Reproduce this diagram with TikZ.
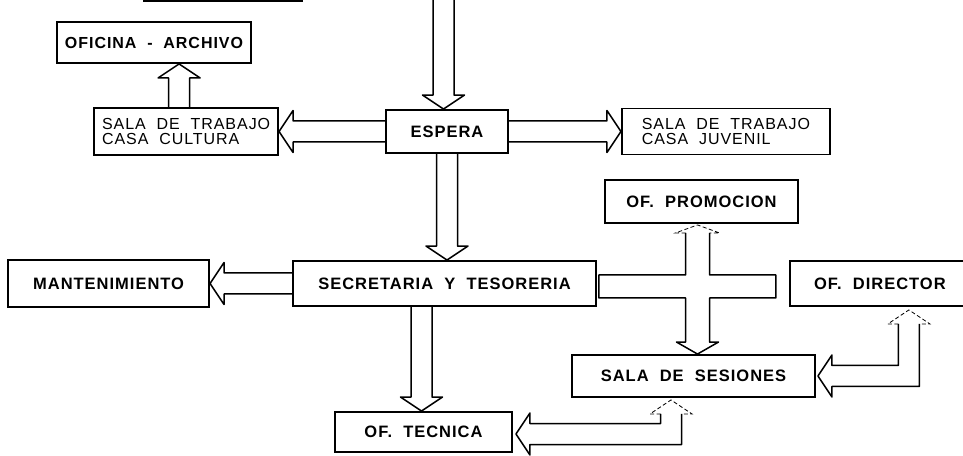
\documentclass[tikz,border=0pt]{standalone}
\usepackage{fontspec}
\setmainfont{Liberation Sans}
\newfontfamily\roomfamily[LetterSpace=6,WordSpace=2]{Liberation Sans}
\usetikzlibrary{calc,positioning}

\newcommand\shaftw{10.5pt}
\newcommand\headw{21pt}
\newcommand\headlen{14pt}

% hollow block arrow, #1 tail, #2 tip
\newcommand\fatarrow[2]{%
  \coordinate (fa-b) at ($(#2)!\headlen!(#1)$);
  \draw[flow] ($(#1)!\shaftw!90:(#2)$) -- ($(fa-b)!\shaftw!90:(#2)$)
    -- ($(fa-b)!\headw!90:(#2)$) -- (#2) -- ($(fa-b)!\headw!-90:(#2)$)
    -- ($(fa-b)!\shaftw!-90:(#2)$) -- ($(#1)!\shaftw!-90:(#2)$);
}
% hollow arrow going down from #1, then left to the tip #2
\newcommand\elbowarrow[2]{%
  \draw[flow] let \p1=(#1), \p2=(#2) in
    (\x1+\shaftw,\y1-\headlen) -- (\x1+\shaftw,\y2-\shaftw) -- (\x2+\headlen,\y2-\shaftw)
    -- (\x2+\headlen,\y2-\headw) -- (\x2,\y2) -- (\x2+\headlen,\y2+\headw)
    -- (\x2+\headlen,\y2+\shaftw) -- (\x1-\shaftw,\y2+\shaftw) -- (\x1-\shaftw,\y1-\headlen);
  \draw[faint] let \p1=(#1) in
    (\x1-\shaftw,\y1-\headlen) -- (\x1-\headw,\y1-\headlen) -- (\x1,\y1)
    -- (\x1+\headw,\y1-\headlen) -- (\x1+\shaftw,\y1-\headlen);
}

\begin{document}
\begin{tikzpicture}[x=1pt, y=1pt,
  room/.style={draw, line width=1.9pt, inner sep=0pt, minimum height=44pt,
    font=\roomfamily\bfseries\fontsize{16.5}{18}\selectfont},
  twoline/.style={room, align=left, font=\roomfamily\fontsize{16}{15.5}\selectfont},
  flow/.style={line width=1.5pt, line join=round},
  faint/.style={line width=.8pt, dash pattern=on 4pt off 2.5pt}]
  \useasboundingbox (0,0) rectangle (963,455);
  \clip (0,0) rectangle (963,455);

  % upper floor
  \node[room, minimum width=122pt, minimum height=43pt] (esp) at (447,323.5) {ESPERA};
  \node[twoline, minimum width=184pt, minimum height=47pt, left=106pt of esp] (cul) {SALA DE TRABAJO\\CASA CULTURA};
  \node[twoline, minimum width=208pt, minimum height=46pt, right=112pt of esp] (juv) {SALA DE TRABAJO\\CASA JUVENIL};
  \node[room, minimum width=194pt, minimum height=41pt,
    font=\roomfamily\bfseries\fontsize{16}{18}\selectfont] (ofi) at (154,412.5) {OFICINA - ARCHIVO};
  \draw[line width=1.9pt] (143,454) -- (303,454);

  % offices
  \node[room, minimum width=303pt, minimum height=45pt] (sec) at (444.5,171.5) {SECRETARIA Y TESORERIA};
  \node[room, minimum width=201pt, minimum height=47pt, left=82pt of sec] (man) {MANTENIMIENTO};
  \node[room, minimum width=180pt, minimum height=45pt, right=192pt of sec] (dir) {OF. DIRECTOR};
  \node[room, minimum width=193pt, minimum height=43pt] (pro) at (701.5,253.5) {OF. PROMOCION};
  \node[room, minimum width=243pt, minimum height=42pt] (ses) at (693.5,79) {SALA DE SESIONES};
  \node[room, minimum width=177pt, minimum height=40pt] (tec) at (423.5,23) {OF. TECNICA};

  % straight arrows
  \coordinate (door) at (443.5,470);
  \fatarrow{door}{door |- esp.north}
  \fatarrow{esp.west}{esp.west -| cul.east}
  \fatarrow{esp.east}{esp.east -| juv.west}
  \coordinate (cul-up) at ($(cul.north)+(-7,0)$);
  \fatarrow{cul-up}{cul-up |- ofi.south}
  \fatarrow{esp.south}{esp.south |- sec.north}
  \fatarrow{sec.west}{sec.west -| man.east}
  \coordinate (sec-dn) at ($(sec.south)+(-23,0)$);
  \fatarrow{sec-dn}{sec-dn |- tec.north}

  % crossing
  \coordinate (hub-x) at ($(pro.south)!.5!(ses.north)$);
  \coordinate (hub) at ($(hub-x |- sec.east)+(0,-3)$);
  \draw[flow] let \p0=(hub), \p1=(sec.east), \p2=(dir.west), \p3=(pro.south), \p4=(ses.north) in
    (\x0-12pt,\y3-9pt) -- (\x0-12pt,\y0+11.5pt) -- (\x1+2pt,\y0+11.5pt) -- (\x1+2pt,\y0-11.5pt)
    -- (\x0-12pt,\y0-11.5pt) -- (\x0-12pt,\y4+12pt) -- (\x0-21pt,\y4+12pt) -- (\x0,\y4)
    -- (\x0+21pt,\y4+12pt) -- (\x0+12pt,\y4+12pt) -- (\x0+12pt,\y0-11.5pt)
    -- (\x2-13pt,\y0-11.5pt) -- (\x2-13pt,\y0+11.5pt) -- (\x0+12pt,\y0+11.5pt) -- (\x0+12pt,\y3-9pt);
  \draw[faint] let \p0=(hub), \p3=(pro.south) in
    (\x0-12pt,\y3-9pt) -- (\x0-22pt,\y3-9pt) -- (\x0,\y3-1pt) -- (\x0+22pt,\y3-9pt) -- (\x0+12pt,\y3-9pt);

  % elbow arrows
  \coordinate (dir-out) at ($(dir.south)+(29,-3)$);
  \coordinate (ses-in) at ($(ses.east)+(2,0)$);
  \elbowarrow{dir-out}{ses-in}
  \coordinate (ses-out) at ($(ses.south)+(-22.5,-2)$);
  \coordinate (tec-in) at ($(tec.east)+(3,-2)$);
  \elbowarrow{ses-out}{tec-in}
\end{tikzpicture}
\end{document}
